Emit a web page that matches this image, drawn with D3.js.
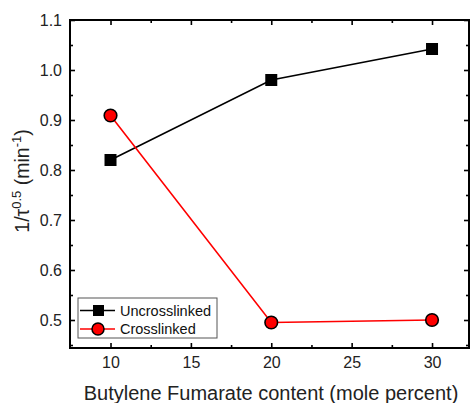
<!DOCTYPE html>
<html>
<head>
<meta charset="utf-8">
<script src="https://cdn.jsdelivr.net/npm/d3@7"></script>
<style>
  body { margin: 0; background: #fff; }
  text { font-family: "Liberation Sans", Arial, sans-serif; }
</style>
</head>
<body>
<svg id="chart" width="471" height="403"></svg>
<script>
// data
var contents = [10, 20, 30];
var uncrosslinked = [0.82, 0.98, 1.042];
var crosslinked = [0.909, 0.495, 0.5];
var xTicks = [10, 15, 20, 25, 30];
var yTicks = [0.5, 0.6, 0.7, 0.8, 0.9, 1.0, 1.1];
var seriesNames = ["Uncrosslinked", "Crosslinked"];

var svg = d3.select("#chart");
// plot frame edges (note: "top" is reserved on window)
var plotL = 70, plotR = 469, plotT = 20, plotB = 348;

var x = d3.scaleLinear().domain([7.48, 32.3]).range([plotL, plotR]);
var y = d3.scaleLinear().domain([0.444, 1.1]).range([plotB, plotT]);

// minor ticks halfway between majors
var xMinor = d3.range(12.5, 30, 5);
var yMinor = d3.range(0.45, 1.1, 0.1).map(function (v) { return +v.toFixed(2); });

function tickGroup(axis, transform) {
  var g = svg.append("g").attr("transform", transform).call(axis);
  g.select(".domain").remove();
  g.selectAll("line").attr("stroke", "#000").attr("stroke-width", 1.6);
  return g;
}

// bottom / top
var bx = tickGroup(d3.axisBottom(x).tickValues(xTicks).tickSize(-5),
  "translate(0," + plotB + ")");
bx.selectAll("text").attr("font-size", 16).attr("fill", "#222").attr("dy", "0.71em")
  .attr("y", 9);
tickGroup(d3.axisBottom(x).tickValues(xMinor).tickSize(-3).tickFormat(""),
  "translate(0," + plotB + ")");
tickGroup(d3.axisTop(x).tickValues(xTicks).tickSize(-5).tickFormat(""),
  "translate(0," + plotT + ")");
tickGroup(d3.axisTop(x).tickValues(xMinor).tickSize(-3).tickFormat(""),
  "translate(0," + plotT + ")");

// left / right
var ly = tickGroup(d3.axisLeft(y).tickValues(yTicks).tickSize(-5).tickFormat(d3.format(".1f")),
  "translate(" + plotL + ",0)");
ly.selectAll("text").attr("font-size", 16).attr("fill", "#222").attr("x", -8);
tickGroup(d3.axisLeft(y).tickValues(yMinor).tickSize(-3).tickFormat(""),
  "translate(" + plotL + ",0)");
tickGroup(d3.axisRight(y).tickValues(yTicks).tickSize(-5).tickFormat(""),
  "translate(" + plotR + ",0)");
tickGroup(d3.axisRight(y).tickValues(yMinor).tickSize(-3).tickFormat(""),
  "translate(" + plotR + ",0)");

// frame
svg.append("rect")
  .attr("x", plotL).attr("y", plotT)
  .attr("width", plotR - plotL).attr("height", plotB - plotT)
  .attr("fill", "none").attr("stroke", "#000").attr("stroke-width", 2);

var line = d3.line().x(function (d) { return x(d[0]); }).y(function (d) { return y(d[1]); });
var uData = d3.zip(contents, uncrosslinked);
var cData = d3.zip(contents, crosslinked);

svg.append("path").datum(uData).attr("d", line)
  .attr("fill", "none").attr("stroke", "#000").attr("stroke-width", 1.6);
svg.append("path").datum(cData).attr("d", line)
  .attr("fill", "none").attr("stroke", "#f00").attr("stroke-width", 1.6);

svg.selectAll(".sq").data(uData).enter().append("rect").attr("class", "sq")
  .attr("x", function (d) { return x(d[0]) - 6; })
  .attr("y", function (d) { return y(d[1]) - 6; })
  .attr("width", 12).attr("height", 12).attr("fill", "#000");

svg.selectAll(".ci").data(cData).enter().append("circle").attr("class", "ci")
  .attr("cx", function (d) { return x(d[0]); })
  .attr("cy", function (d) { return y(d[1]); })
  .attr("r", 6.3).attr("fill", "#f00").attr("stroke", "#000").attr("stroke-width", 1.6);

// legend
var lg = svg.append("g");
lg.append("rect").attr("x", 78).attr("y", 298).attr("width", 139).attr("height", 40)
  .attr("fill", "#fff").attr("stroke", "#555").attr("stroke-width", 1);
seriesNames.forEach(function (name, i) {
  var cy = 310.5 + i * 18.5;
  var col = i === 0 ? "#000" : "#f00";
  lg.append("line").attr("x1", 80).attr("x2", 115).attr("y1", cy).attr("y2", cy)
    .attr("stroke", col).attr("stroke-width", 1.6);
  if (i === 0) {
    lg.append("rect").attr("x", 93).attr("y", cy - 5.5).attr("width", 11).attr("height", 11)
      .attr("fill", "#000");
  } else {
    lg.append("circle").attr("cx", 98).attr("cy", cy).attr("r", 6)
      .attr("fill", "#f00").attr("stroke", "#000").attr("stroke-width", 1.5);
  }
  lg.append("text").attr("x", 120).attr("y", cy).attr("dy", "0.35em")
    .attr("font-size", 14.5).attr("fill", "#111").text(name);
});

// axis titles
svg.append("text").attr("x", 271).attr("y", 400)
  .attr("text-anchor", "middle").attr("font-size", 20).attr("fill", "#222")
  .text("Butylene Fumarate content (mole percent)");

var yt = svg.append("text").attr("transform", "translate(29,181) rotate(-90)")
  .attr("text-anchor", "middle").attr("font-size", 19.5).attr("fill", "#222");
yt.append("tspan").text("1/\u03c4");
yt.append("tspan").attr("font-size", 13).attr("dy", -8).text("0.5");
yt.append("tspan").attr("dy", 8).text(" (min");
yt.append("tspan").attr("font-size", 13).attr("dy", -8).text("-1");
yt.append("tspan").attr("dy", 8).text(")");
</script>
</body>
</html>
